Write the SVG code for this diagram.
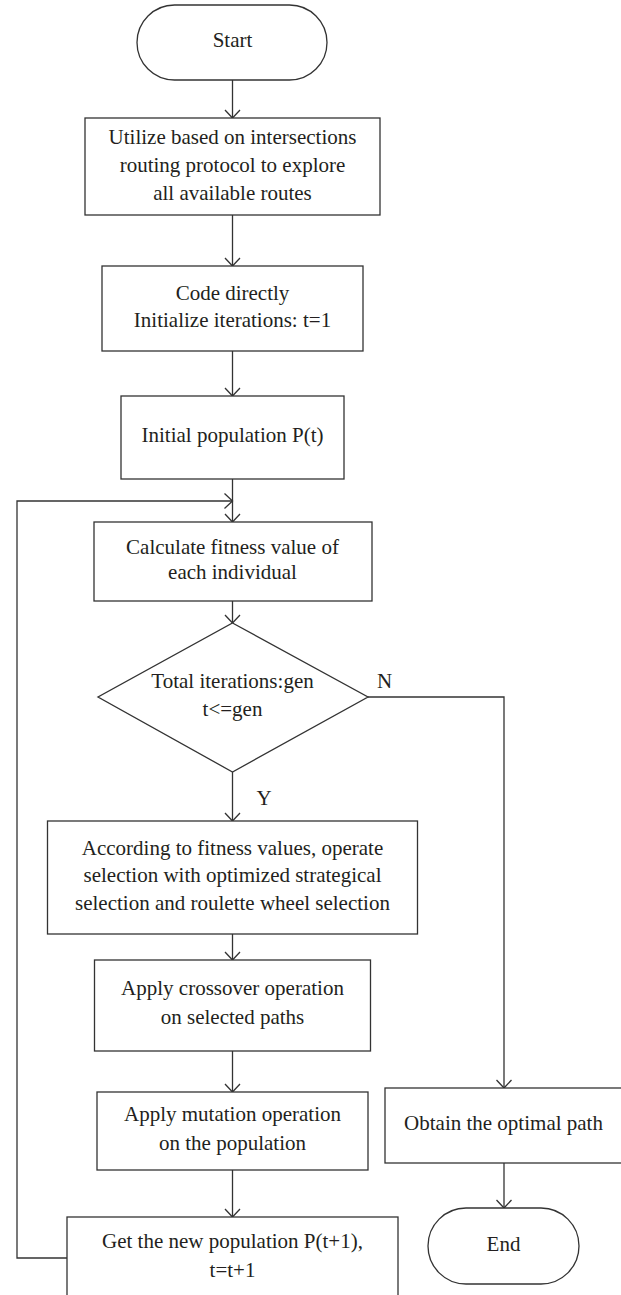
<svg xmlns="http://www.w3.org/2000/svg" width="621" height="1295" viewBox="0 0 621 1295">
<style>
.n{fill:#fff;stroke:#333;stroke-width:1.3}
.c{fill:none;stroke:#333;stroke-width:1.3}
text{font-family:"Liberation Serif","Times New Roman",serif;font-size:21px;fill:#231f20;text-anchor:middle}
</style>
<defs>
<marker id="a" markerUnits="userSpaceOnUse" markerWidth="20" markerHeight="20" viewBox="-10 -10 20 20" refX="0" refY="0" orient="auto" overflow="visible">
<path d="M-8,-7.5 L0,0 L-8,7.5" fill="none" stroke="#333" stroke-width="1.3"/>
</marker>
</defs>
<g id="connectors">
<path class="c" d="M232.5,80 V118" marker-end="url(#a)"/>
<path class="c" d="M232.5,215 V266" marker-end="url(#a)"/>
<path class="c" d="M232.5,351 V396" marker-end="url(#a)"/>
<path class="c" d="M232.5,479 V522" marker-end="url(#a)"/>
<path class="c" d="M67,1258 H17 V501 H232.5" marker-end="url(#a)"/>
<path class="c" d="M232.5,601 V623" marker-end="url(#a)"/>
<path class="c" d="M232.5,772 V821" marker-end="url(#a)"/>
<path class="c" d="M232.5,934 V960" marker-end="url(#a)"/>
<path class="c" d="M232.5,1051 V1092" marker-end="url(#a)"/>
<path class="c" d="M232.5,1170 V1217" marker-end="url(#a)"/>
<path class="c" d="M368,697 H504 V1088" marker-end="url(#a)"/>
<path class="c" d="M504,1163 V1208" marker-end="url(#a)"/>
<text x="264" y="805">Y</text>
<text x="384.5" y="688">N</text>
</g>
<g id="start">
<rect class="n" x="137" y="5" width="190" height="75" rx="37.5" ry="37.5"/>
<text x="232.5" y="47">Start</text>
</g>
<g id="explore">
<rect class="n" x="85" y="118" width="295" height="97"/>
<text x="232.5" y="144">Utilize based on intersections</text>
<text x="232.5" y="172">routing protocol to explore</text>
<text x="232.5" y="200">all available routes</text>
</g>
<g id="code">
<rect class="n" x="102" y="266" width="261" height="85"/>
<text x="232.5" y="300">Code directly</text>
<text x="232.5" y="327">Initialize iterations: t=1</text>
</g>
<g id="initial">
<rect class="n" x="121" y="396" width="223" height="83"/>
<text x="232.5" y="442">Initial population P(t)</text>
</g>
<g id="fitness">
<rect class="n" x="94" y="522" width="278" height="79"/>
<text x="232.5" y="554">Calculate fitness value of</text>
<text x="232.5" y="579">each individual</text>
</g>
<g id="decision">
<polygon class="n" points="232.5,623 368,697 232.5,772 98,697"/>
<text x="232.5" y="688">Total iterations:gen</text>
<text x="232.5" y="716">t&lt;=gen</text>
</g>
<g id="selection">
<rect class="n" x="47.5" y="821" width="370" height="113"/>
<text x="232.5" y="855">According to fitness values, operate</text>
<text x="232.5" y="882">selection with optimized strategical</text>
<text x="232.5" y="910">selection and roulette wheel selection</text>
</g>
<g id="crossover">
<rect class="n" x="94.5" y="960" width="276" height="91"/>
<text x="232.5" y="995">Apply crossover operation</text>
<text x="232.5" y="1024">on selected paths</text>
</g>
<g id="mutation">
<rect class="n" x="97" y="1092" width="271" height="78"/>
<text x="232.5" y="1121">Apply mutation operation</text>
<text x="232.5" y="1150">on the population</text>
</g>
<g id="newpop">
<rect class="n" x="67" y="1217" width="331" height="90"/>
<text x="232.5" y="1248">Get the new population P(t+1),</text>
<text x="232.5" y="1277">t=t+1</text>
</g>
<g id="optimal">
<rect class="n" x="385" y="1088" width="238" height="75"/>
<text x="503.5" y="1130">Obtain the optimal path</text>
</g>
<g id="end">
<rect class="n" x="428" y="1208" width="151" height="76" rx="38" ry="38"/>
<text x="503.5" y="1251">End</text>
</g>
</svg>
